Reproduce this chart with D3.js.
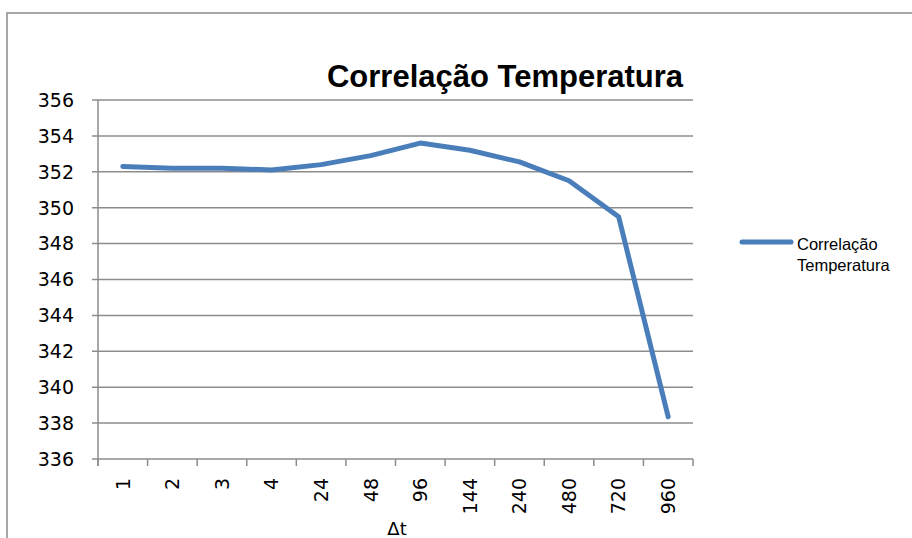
<!DOCTYPE html>
<html>
<head>
<meta charset="utf-8">
<script src="https://cdn.jsdelivr.net/npm/d3@7"></script>
<style>
  body { margin: 0; background: #fff; }
  svg { display: block; }
  text { fill: #000; }
  .num { font-family: "DejaVu Sans", sans-serif; font-size: 19px; }
</style>
</head>
<body>
<svg id="chart" width="912" height="538"></svg>
<script>
// data
var categories = ["1", "2", "3", "4", "24", "48", "96", "144", "240", "480", "720", "960"];
var values = [352.3, 352.2, 352.2, 352.1, 352.4, 352.9, 353.6, 353.2, 352.55, 351.5, 349.5, 338.35];
var yTicks = [336, 338, 340, 342, 344, 346, 348, 350, 352, 354, 356];
var seriesName = "Correlação Temperatura";

var svg = d3.select("#chart");
var margin = {left: 98, right: 219, top: 100, bottom: 79};
var W = 912, H = 538;

// outer frame
svg.append("path")
    .attr("d", "M7,538 V13 H912")
    .attr("fill", "none")
    .attr("stroke", "#8c8c8c")
    .attr("stroke-width", 1.5);

var x = d3.scaleBand()
    .domain(categories)
    .range([margin.left, W - margin.right]);

var y = d3.scaleLinear()
    .domain([336, 356])
    .range([H - margin.bottom, margin.top]);

//gridlines
svg.append("g")
    .selectAll("line")
    .data(yTicks)
    .enter().append("line")
      .attr("x1", margin.left - 6)
      .attr("x2", W - margin.right)
      .attr("y1", function(d) { return y(d); })
      .attr("y2", function(d) { return y(d); })
      .attr("stroke", "#8c8c8c")
      .attr("stroke-width", 1.5);

// y axis line
svg.append("line")
    .attr("x1", margin.left).attr("x2", margin.left)
    .attr("y1", y(356)).attr("y2", y(336) + 7)
    .attr("stroke", "#8c8c8c")
    .attr("stroke-width", 1.5);

// x axis ticks at category boundaries
var bounds = categories.map(function(c) { return x(c); }).concat([W - margin.right]);
svg.append("g")
    .selectAll("line")
    .data(bounds)
    .enter().append("line")
      .attr("x1", function(d) { return d; })
      .attr("x2", function(d) { return d; })
      .attr("y1", y(336))
      .attr("y2", y(336) + 7)
      .attr("stroke", "#8c8c8c")
      .attr("stroke-width", 1.5);

// y labels
svg.append("g")
    .selectAll("text")
    .data(yTicks)
    .enter().append("text")
      .attr("class", "num")
      .attr("x", 74)
      .attr("y", function(d) { return y(d); })
      .attr("dy", "0.36em")
      .attr("text-anchor", "end")
      .text(function(d) { return d; });

// x labels, rotated
svg.append("g")
    .selectAll("text")
    .data(categories)
    .enter().append("text")
      .attr("class", "num")
      .attr("transform", function(d) {
        return "translate(" + (x(d) + x.bandwidth() / 2) + "," + 478 + ") rotate(-90)";
      })
      .attr("dy", "0.36em")
      .attr("text-anchor", "end")
      .text(function(d) { return d; });

svg.append("text")
    .attr("x", 397)
    .attr("y", 535)
    .attr("text-anchor", "middle")
    .style("font-family", "DejaVu Sans, sans-serif")
    .style("font-size", "18px")
    .text("Δt");

// line
var line = d3.line()
    .x(function(d, i) { return x(categories[i]) + x.bandwidth() / 2; })
    .y(function(d) { return y(d); });

svg.append("path")
    .datum(values)
    .attr("d", line)
    .attr("fill", "none")
    .attr("stroke", "#4a7ebb")
    .attr("stroke-width", 5)
    .attr("stroke-linecap", "round")
    .attr("stroke-linejoin", "round");

// title
svg.append("text")
    .attr("x", 505)
    .attr("y", 87)
    .attr("text-anchor", "middle")
    .style("font-family", "Liberation Sans, Arial, sans-serif")
    .style("font-size", "31px")
    .style("font-weight", "bold")
    .text(seriesName);

// legend
svg.append("line")
    .attr("x1", 742).attr("x2", 791)
    .attr("y1", 242).attr("y2", 242)
    .attr("stroke", "#4a7ebb")
    .attr("stroke-width", 5)
    .attr("stroke-linecap", "round");

var leg = svg.append("text")
    .attr("x", 797)
    .attr("y", 250)
    .style("font-family", "Liberation Sans, Arial, sans-serif")
    .style("font-size", "16.5px");
leg.append("tspan").attr("x", 797).text("Correlação");
leg.append("tspan").attr("x", 797).attr("dy", 21).text("Temperatura");
</script>
</body>
</html>
